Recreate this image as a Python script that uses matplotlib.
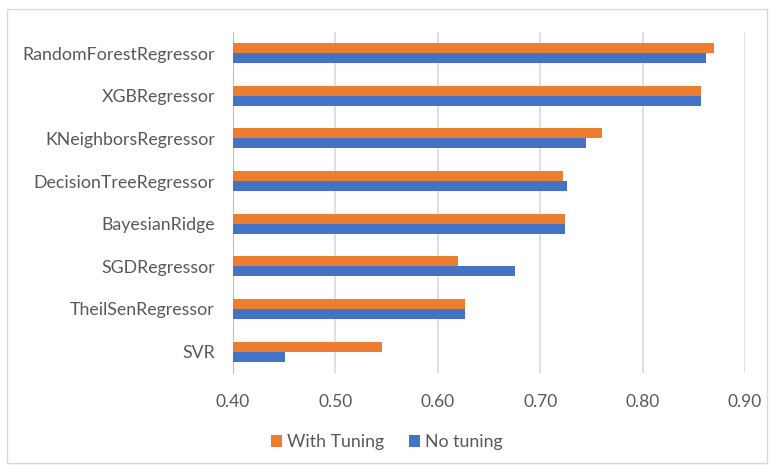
import numpy as np
import matplotlib.pyplot as plt
from matplotlib.patches import Rectangle

models = ["RandomForestRegressor", "XGBRegressor", "KNeighborsRegressor",
          "DecisionTreeRegressor", "BayesianRidge", "SGDRegressor",
          "TheilSenRegressor", "SVR"]
with_tuning = [0.870, 0.857, 0.760, 0.722, 0.724, 0.620, 0.627, 0.546]
no_tuning = [0.862, 0.857, 0.745, 0.726, 0.724, 0.675, 0.627, 0.451]
xticks = [0.40, 0.50, 0.60, 0.70, 0.80, 0.90]

orange = "#ED7D31"
blue = "#4472C4"
txt = "#595959"
plt.rcParams['font.family'] = ['Lato', 'DejaVu Sans']

fig = plt.figure(figsize=(7.74, 4.69), dpi=100)
ax = fig.add_axes([0.301, 0.205, 0.6615, 0.727])

y = np.arange(len(models))
h = 0.235
ax.barh(y - h / 2, with_tuning, height=h, color=orange, label="With Tuning", zorder=3)
ax.barh(y + h / 2, no_tuning, height=h, color=blue, label="No tuning", zorder=3)

ax.set_xlim(0.4, 0.9)
ax.set_ylim(len(models) - 0.5, -0.5)
ax.set_yticks(y)
ax.set_yticklabels(models, fontsize=12.8, color=txt)
ax.set_xticks(xticks)
ax.set_xticklabels([f"{v:.2f}" for v in xticks], fontsize=12.5, color=txt)
ax.tick_params(length=0)
ax.tick_params(axis='y', pad=13)
ax.tick_params(axis='x', pad=15)
ax.grid(axis='x', color="#D9D9D9", linewidth=1.2, zorder=0)
for s in ["top", "right", "bottom"]:
    ax.spines[s].set_visible(False)
ax.spines["left"].set_color("#BFBFBF")

fig.legend(loc="center", bbox_to_anchor=(0.5, 0.057), ncol=2, frameon=False,
           fontsize=12.8, labelcolor=txt, handlelength=0.6, handleheight=0.6,
           handletextpad=0.3, columnspacing=1.4)

fig.patches.append(Rectangle((0.009, 0.013), 0.982, 0.968, transform=fig.transFigure,
                             fill=False, edgecolor="#D9D9D9", linewidth=1.0))

fig.savefig("out.png", dpi=100)
